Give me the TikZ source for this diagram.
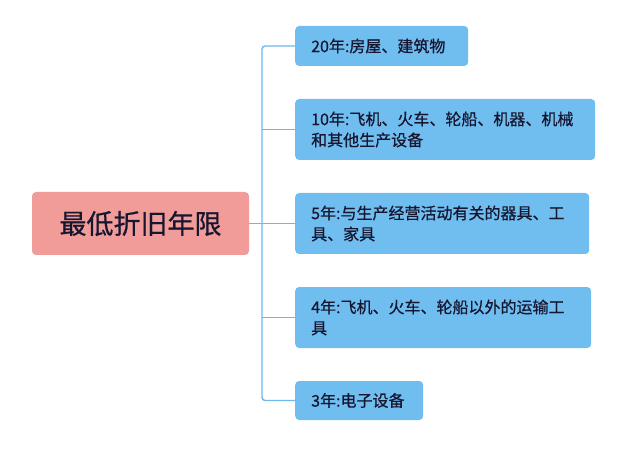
\documentclass[tikz,border=0pt]{standalone}
\usepackage{fontspec}
\newfontfamily\cjk[FakeBold=0.6]{Noto Sans CJK SC}
\usepackage{tikz}
\definecolor{leafblue}{HTML}{6FBEEF}
\definecolor{linkblue}{HTML}{6CB8EA}
\definecolor{rootred}{HTML}{F19C99}
\definecolor{inkdark}{HTML}{161630}
\tikzstyle{box}=[rounded corners=4pt, inner ysep=0pt, text=inkdark, font=\cjk]
\tikzstyle{rootbox}=[box, fill=rootred, minimum width=217pt, minimum height=63pt,
  font=\cjk\fontsize{27}{30}\selectfont]
\tikzstyle{leafbox}=[box, fill=leafblue, anchor=west, inner xsep=16pt, align=left,
  font=\cjk\fontsize{16}{21}\selectfont]
\tikzstyle{branch}=[draw=linkblue, line width=1.4pt]

\begin{document}
\begin{tikzpicture}[x=1pt, y=-1pt]
    \useasboundingbox (0,0) rectangle (640,449);
    \node[rootbox] (root) at (140.5,223.5) {最低折旧年限};
    \node[leafbox, text width=141pt, minimum height=40pt] (L20) at (295,46) {20年:房屋、建筑物};
    \node[leafbox, text width=268pt, minimum height=61pt] (L10) at (295,129.5)
        {10年:飞机、火车、轮船、机器、机械\\和其他生产设备};
    \node[leafbox, text width=262pt, minimum height=61pt] (L5) at (295,223.5)
        {5年:与生产经营活动有关的器具、工\\具、家具};
    \node[leafbox, text width=264pt, minimum height=61pt] (L4) at (295,317.5)
        {4年:飞机、火车、轮船以外的运输工\\具};
    \node[leafbox, text width=96pt, minimum height=39pt] (L3) at (295,400.5) {3年:电子设备};
    \coordinate (trunk) at (262,223.5);
    % connectors
    \draw[branch, rounded corners=3pt] (L20.west) -| (trunk) |- (L3.west);
    \draw[branch] (root.east) -- (L5.west);
    \draw[branch] (trunk |- L10.west) -- (L10.west);
    \draw[branch] (trunk |- L4.west) -- (L4.west);
\end{tikzpicture}
\end{document}
